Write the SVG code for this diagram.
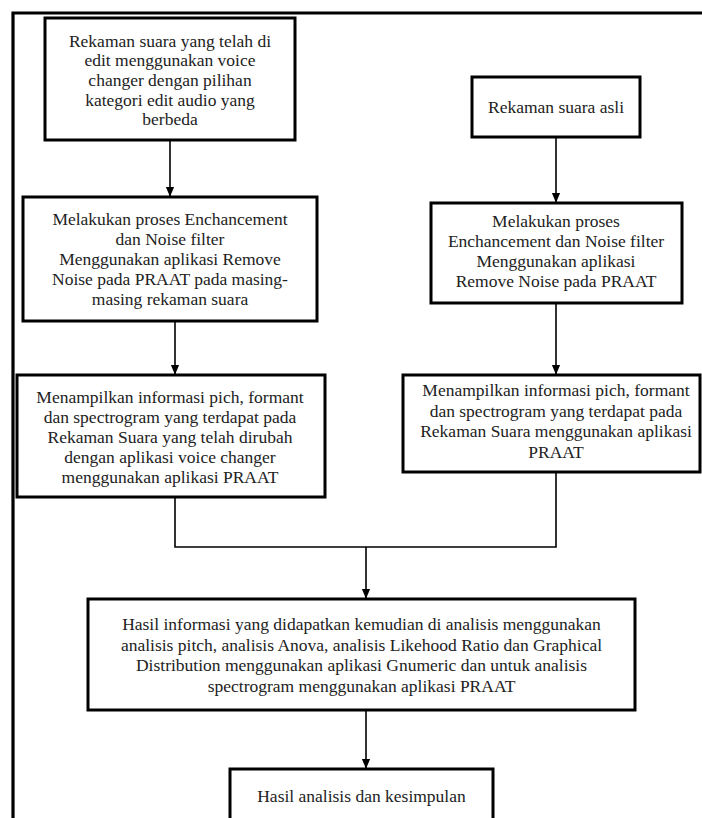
<svg xmlns="http://www.w3.org/2000/svg" width="702" height="818" viewBox="0 0 702 818">
<style>
.box{fill:#fff;stroke:#000;stroke-width:3}
.t{font-family:"Liberation Serif","Times New Roman",serif;font-size:17.5px;fill:#222;text-anchor:middle}
.c{fill:none;stroke:#000;stroke-width:1.6}
.frame{fill:none;stroke:#000;stroke-width:3.2}
</style>
<defs>
<marker id="ah" markerUnits="userSpaceOnUse" markerWidth="10" markerHeight="12" refX="5" refY="11" orient="auto-start-reverse" viewBox="0 0 10 12">
<path d="M0,0 L10,0 L5,12 Z" fill="#000" transform="rotate(0)"/>
</marker>
<marker id="arr" markerUnits="userSpaceOnUse" markerWidth="10" markerHeight="12" refX="11" refY="5" orient="auto" viewBox="0 0 12 10">
<path d="M0,0 L12,5 L0,10 Z" fill="#000"/>
</marker>
</defs>
<path class="frame" d="M13,818 V13 H702"/>
<g id="connectors">
<path class="c" d="M170,140 V196" marker-end="url(#arr)"/>
<path class="c" d="M175,321 V374" marker-end="url(#arr)"/>
<path class="c" d="M556,137 V202" marker-end="url(#arr)"/>
<path class="c" d="M556,303 V374" marker-end="url(#arr)"/>
<path class="c" d="M175,497 V547 H556 V472"/>
<path class="c" d="M366,547 V598" marker-end="url(#arr)"/>
<path class="c" d="M366,710 V768" marker-end="url(#arr)"/>
</g>
<g id="n1">
<rect class="box" x="45" y="18" width="250" height="122"/>
<text class="t" x="170" y="46.5">Rekaman suara yang telah di</text>
<text class="t" x="170" y="66.2">edit menggunakan voice</text>
<text class="t" x="170" y="85.9">changer dengan pilihan</text>
<text class="t" x="170" y="105.6">kategori edit audio yang</text>
<text class="t" x="170" y="125.3">berbeda</text>
</g>
<g id="n2">
<rect class="box" x="23" y="197" width="294" height="124"/>
<text class="t" x="170" y="225">Melakukan proses Enchancement</text>
<text class="t" x="170" y="245">dan Noise filter</text>
<text class="t" x="170" y="265">Menggunakan aplikasi Remove</text>
<text class="t" x="170" y="285">Noise pada PRAAT pada masing-</text>
<text class="t" x="170" y="305">masing rekaman suara</text>
</g>
<g id="n3">
<rect class="box" x="17" y="375" width="308" height="122"/>
<text class="t" x="170" y="402.5">Menampilkan informasi pich, formant</text>
<text class="t" x="170" y="422.5">dan spectrogram yang terdapat pada</text>
<text class="t" x="170" y="442.5">Rekaman Suara yang telah dirubah</text>
<text class="t" x="170" y="462.5">dengan aplikasi voice changer</text>
<text class="t" x="170" y="482.5">menggunakan aplikasi PRAAT</text>
</g>
<g id="r1">
<rect class="box" x="472" y="77" width="168" height="60"/>
<text class="t" x="556" y="112.5">Rekaman suara asli</text>
</g>
<g id="r2">
<rect class="box" x="431" y="203" width="251" height="100"/>
<text class="t" x="556" y="226.5">Melakukan proses</text>
<text class="t" x="556" y="247">Enchancement dan Noise filter</text>
<text class="t" x="556" y="267">Menggunakan aplikasi</text>
<text class="t" x="556" y="287">Remove Noise pada PRAAT</text>
</g>
<g id="r3">
<rect class="box" x="403" y="375" width="297" height="97"/>
<text class="t" x="556" y="396">Menampilkan informasi pich, formant</text>
<text class="t" x="556" y="416.5">dan spectrogram yang terdapat pada</text>
<text class="t" x="556" y="437">Rekaman Suara menggunakan aplikasi</text>
<text class="t" x="556" y="457.5">PRAAT</text>
</g>
<g id="n4">
<rect class="box" x="88" y="599" width="547" height="111"/>
<text class="t" x="361.5" y="630">Hasil informasi yang didapatkan kemudian di analisis menggunakan</text>
<text class="t" x="361.5" y="650.5">analisis pitch, analisis Anova, analisis Likehood Ratio dan Graphical</text>
<text class="t" x="361.5" y="671">Distribution menggunakan aplikasi Gnumeric dan untuk analisis</text>
<text class="t" x="361.5" y="691.5">spectrogram menggunakan aplikasi PRAAT</text>
</g>
<g id="n5">
<rect class="box" x="230" y="769" width="263" height="70"/>
<text class="t" x="361.5" y="801.5">Hasil analisis dan kesimpulan</text>
</g>
</svg>
